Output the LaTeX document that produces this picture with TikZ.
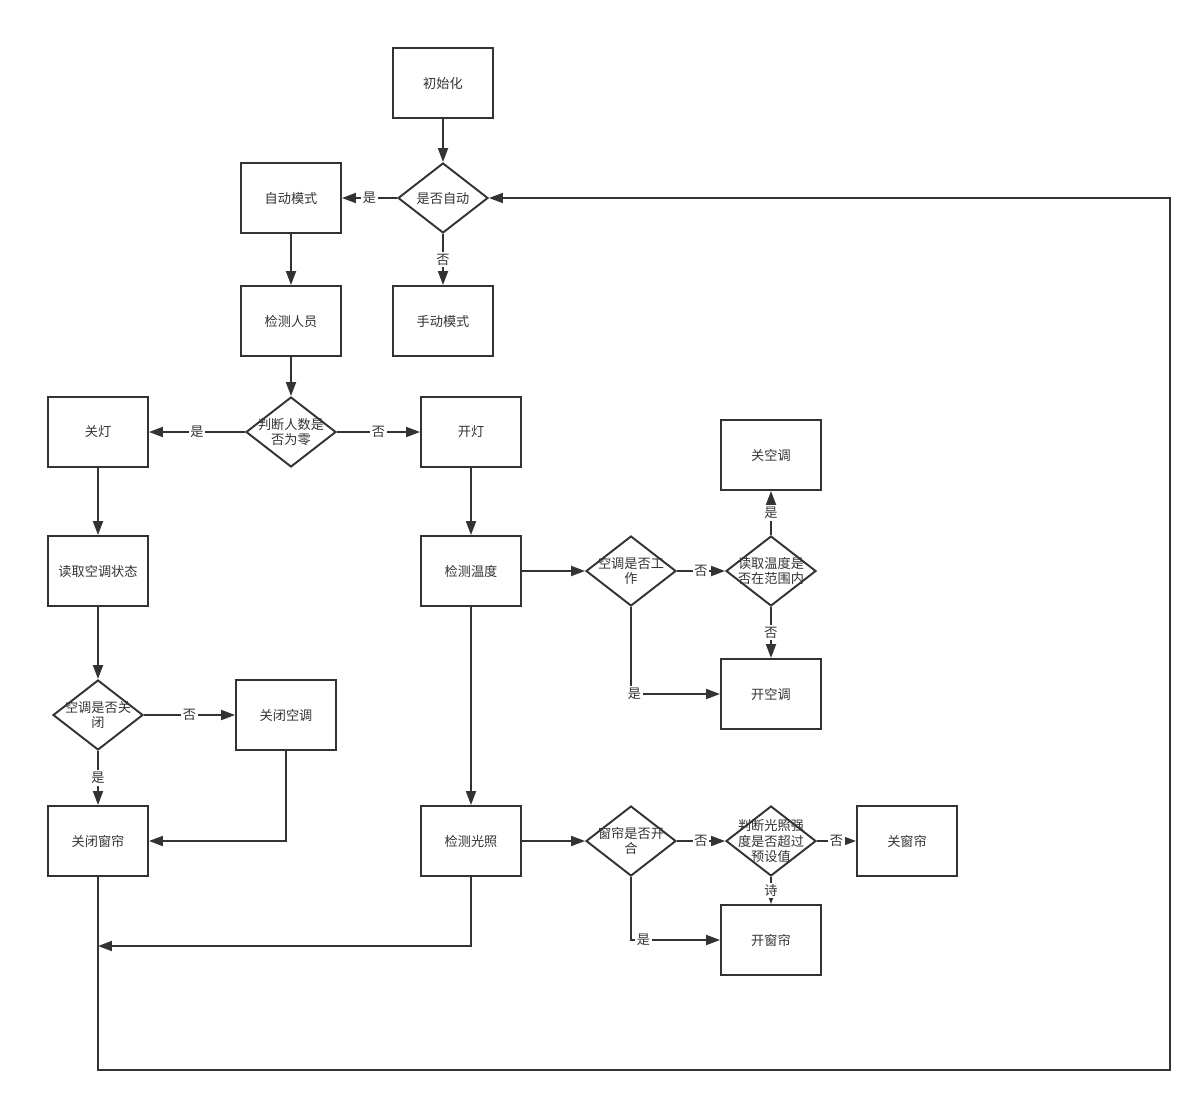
\documentclass[tikz,border=0pt]{standalone}
\usepackage{fontspec}
\setmainfont{Noto Sans CJK SC}
\usetikzlibrary{shapes.geometric, arrows.meta}
\definecolor{ln}{HTML}{333333}

\begin{document}
\begin{tikzpicture}[x=0.02cm, y=-0.02cm, line width=1.1pt, color=ln,
    font=\fontsize{7.5}{9}\selectfont,
    box/.style={draw, rectangle, minimum width=2cm, minimum height=1.4cm},
    decision/.style={draw, diamond, minimum width=1.8cm, minimum height=1.4cm, inner sep=0pt},
    dtext/.style={align=center, inner sep=0pt},
    lbl/.style={fill=white, inner sep=1pt},
    arr/.style={-{Triangle[length=0.28cm, width=0.2cm]}}]
    \useasboundingbox (0,0) rectangle (1202,1102);

    % Knoten
    \node[box] (init) at (443,83) {初始化};
    \node[decision, label={[dtext]center:是否自动}] (auto) at (443,198) {};
    \node[box] (automode) at (291,198) {自动模式};
    \node[box] (manual) at (443,321) {手动模式};
    \node[box] (people) at (291,321) {检测人员};
    \node[decision, label={[dtext]center:{判断人数是\\否为零}}] (zero) at (291,432) {};
    \node[box] (lightoff) at (98,432) {关灯};
    \node[box] (lighton) at (471,432) {开灯};
    \node[box] (readac) at (98,571) {读取空调状态};
    \node[decision, label={[dtext]center:{空调是否关\\闭}}] (acshut) at (98,715) {};
    \node[box] (shutac) at (286,715) {关闭空调};
    \node[box] (shutcurt) at (98,841) {关闭窗帘};
    \node[box] (temp) at (471,571) {检测温度};
    \node[decision, label={[dtext]center:{空调是否工\\作}}] (acwork) at (631,571) {};
    \node[decision, label={[dtext]center:{读取温度是\\否在范围内}}] (range) at (771,571) {};
    \node[box] (acoff) at (771,455) {关空调};
    \node[box] (acon) at (771,694) {开空调};
    \node[box] (light) at (471,841) {检测光照};
    \node[decision, label={[dtext]center:{窗帘是否开\\合}}] (curt) at (631,841) {};
    \node[decision, label={[dtext]center:{判断光照强\\度是否超过\\预设值}}] (bright) at (771,841) {};
    \node[box] (curtoff) at (907,841) {关窗帘};
    \node[box] (curton) at (771,940) {开窗帘};
    \coordinate (back) at (98,946);
    \coordinate (c1) at (98,1070);
    \coordinate (c2) at (1170,1070);

    % Verbindungen
    \draw[arr] (init) -- (auto);
    \draw[arr] (auto) -- node[lbl] {是} (automode);
    \draw[arr] (auto) -- node[lbl] {否} (manual);
    \draw[arr] (automode) -- (people);
    \draw[arr] (people) -- (zero);
    \draw[arr] (zero) -- node[lbl] {是} (lightoff);
    \draw[arr] (zero) -- node[lbl] {否} (lighton);
    \draw[arr] (lightoff) -- (readac);
    \draw[arr] (readac) -- (acshut);
    \draw[arr] (acshut) -- node[lbl] {否} (shutac);
    \draw[arr] (acshut) -- node[lbl] {是} (shutcurt);
    \draw[arr] (shutac.south) |- (shutcurt.east);
    \draw[arr] (lighton) -- (temp);
    \draw[arr] (temp) -- (acwork);
    \draw[arr] (acwork) -- node[lbl] {否} (range);
    \draw[arr] (acwork.south) |- node[lbl, pos=0.52] {是} (acon.west);
    \draw[arr] (range) -- node[lbl] {是} (acoff);
    \draw[arr] (range) -- node[lbl] {否} (acon);
    \draw[arr] (temp) -- (light);
    \draw[arr] (light) -- (curt);
    \draw[arr] (curt) -- node[lbl] {否} (bright);
    \draw[arr] (curt.south) |- node[lbl, pos=0.57] {是} (curton.west);
    \draw[arr] (bright) -- node[lbl] {否} (curtoff);
    \draw[arr] (bright) -- node[lbl] {诗} (curton);
    \draw[arr] (light.south) |- (back);
    \draw[arr] (shutcurt.south) -- (c1) -- (c2) |- (auto.east);
\end{tikzpicture}
\end{document}
